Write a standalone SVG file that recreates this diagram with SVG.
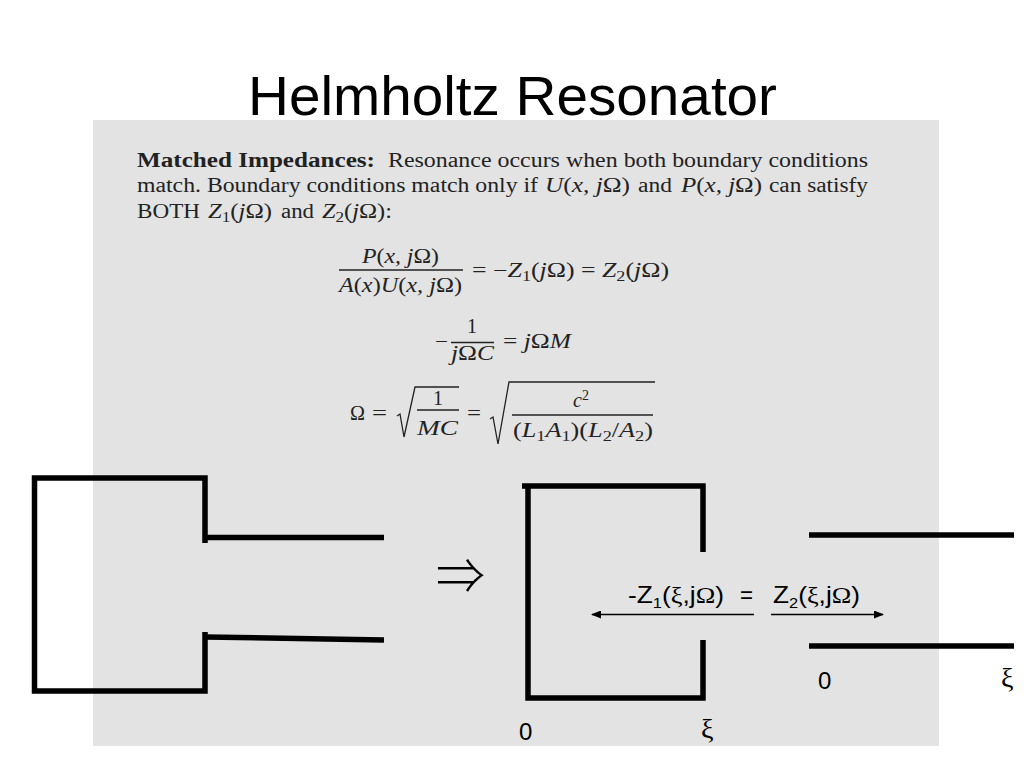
<svg xmlns="http://www.w3.org/2000/svg" width="1024" height="768" viewBox="0 0 1024 768">
<style>
.tex{font-family:"Liberation Serif","DejaVu Serif",serif;font-size:20px;fill:#222}
.b{font-weight:bold}
.i{font-style:italic}
.s{font-size:14px}
.sans{font-family:"Liberation Sans",Arial,sans-serif;font-size:24px;fill:#000}
.sym{font-family:"Liberation Serif",serif}
.xi{font-family:"Liberation Serif",serif;font-size:28px;fill:#000}
.thick{fill:none;stroke:#000;stroke-width:5.5}
.thin{fill:none;stroke:#222;stroke-width:1.3}
.conn{fill:none;stroke:#000;stroke-width:1.3}
.head{fill:#000}
</style>
<defs>
<marker id="arrow" viewBox="0 0 10 8" refX="9" refY="4" markerWidth="10" markerHeight="8" markerUnits="userSpaceOnUse" orient="auto-start-reverse"><path class="head" d="M0 0L10 4L0 8Z"/></marker>
</defs>
<rect width="1024" height="768" fill="#fff"/>
<rect x="93" y="120" width="846" height="626" fill="#e3e3e3"/>
<text x="248" y="115" textLength="529" lengthAdjust="spacingAndGlyphs" style="font-family:'Liberation Sans',Arial,sans-serif;font-size:56px">Helmholtz Resonator</text>

<g id="paragraph">
<text class="tex b" x="137" y="167" textLength="238" lengthAdjust="spacingAndGlyphs">Matched Impedances:</text>
<text class="tex" x="388" y="167" textLength="480" lengthAdjust="spacingAndGlyphs">Resonance occurs when both boundary conditions</text>
<text class="tex" x="137" y="192" textLength="401" lengthAdjust="spacingAndGlyphs">match. Boundary conditions match only if</text>
<text class="tex" x="545" y="192" textLength="85" lengthAdjust="spacingAndGlyphs"><tspan class="i">U</tspan>(<tspan class="i">x, j</tspan>Ω)</text>
<text class="tex" x="638" y="192" textLength="34" lengthAdjust="spacingAndGlyphs">and</text>
<text class="tex" x="681" y="192" textLength="81" lengthAdjust="spacingAndGlyphs"><tspan class="i">P</tspan>(<tspan class="i">x, j</tspan>Ω)</text>
<text class="tex" x="769" y="192" textLength="99" lengthAdjust="spacingAndGlyphs">can satisfy</text>
<text class="tex" x="137" y="218" textLength="63" lengthAdjust="spacingAndGlyphs">BOTH</text>
<text class="tex" x="208" y="218" textLength="64" lengthAdjust="spacingAndGlyphs"><tspan class="i">Z</tspan><tspan class="s" dy="4">1</tspan><tspan dy="-4">(</tspan><tspan class="i">j</tspan>Ω)</text>
<text class="tex" x="281" y="218" textLength="33" lengthAdjust="spacingAndGlyphs">and</text>
<text class="tex" x="322" y="218" textLength="70" lengthAdjust="spacingAndGlyphs"><tspan class="i">Z</tspan><tspan class="s" dy="4">2</tspan><tspan dy="-4">(</tspan><tspan class="i">j</tspan>Ω):</text>
</g>

<g id="equation-1">
<text class="tex" x="362" y="263" textLength="77" lengthAdjust="spacingAndGlyphs"><tspan class="i">P</tspan>(<tspan class="i">x, j</tspan>Ω)</text>
<line class="thin" x1="339" y1="270" x2="463" y2="270"/>
<text class="tex" x="339" y="292" textLength="123" lengthAdjust="spacingAndGlyphs"><tspan class="i">A</tspan>(<tspan class="i">x</tspan>)<tspan class="i">U</tspan>(<tspan class="i">x, j</tspan>Ω)</text>
<text class="tex" x="472" y="277" textLength="197" lengthAdjust="spacingAndGlyphs">= −<tspan class="i">Z</tspan><tspan class="s" dy="4">1</tspan><tspan dy="-4">(</tspan><tspan class="i">j</tspan>Ω) = <tspan class="i">Z</tspan><tspan class="s" dy="4">2</tspan><tspan dy="-4">(</tspan><tspan class="i">j</tspan>Ω)</text>
</g>

<g id="equation-2">
<text class="tex" x="435" y="348" textLength="13" lengthAdjust="spacingAndGlyphs">−</text>
<text class="tex" x="472" y="333" text-anchor="middle">1</text>
<line class="thin" x1="451" y1="342.500" x2="494" y2="342.500"/>
<text class="tex" x="451" y="360" textLength="43" lengthAdjust="spacingAndGlyphs"><tspan class="i">j</tspan>Ω<tspan class="i">C</tspan></text>
<text class="tex" x="503" y="348" textLength="68" lengthAdjust="spacingAndGlyphs">= <tspan class="i">j</tspan>Ω<tspan class="i">M</tspan></text>
</g>

<g id="equation-3">
<text class="tex" x="350" y="420" textLength="15" lengthAdjust="spacingAndGlyphs">Ω</text>
<text class="tex" x="372" y="420" textLength="15" lengthAdjust="spacingAndGlyphs">=</text>
<path class="thin" d="M397 416L400 414L404 437L415 387H459"/>
<text class="tex" x="438" y="405" text-anchor="middle">1</text>
<line class="thin" x1="417" y1="410" x2="459" y2="410"/>
<text class="tex i" x="417" y="435" textLength="41" lengthAdjust="spacingAndGlyphs">MC</text>
<text class="tex" x="467" y="420" textLength="14" lengthAdjust="spacingAndGlyphs">=</text>
<path class="thin" d="M490 419L493 417L498 444L509 382H655"/>
<text class="tex" x="573" y="407"><tspan class="i">c</tspan><tspan class="s" dy="-7">2</tspan></text>
<line class="thin" x1="512" y1="415" x2="653" y2="415"/>
<text class="tex" x="513" y="437" textLength="140" lengthAdjust="spacingAndGlyphs">(<tspan class="i">L</tspan><tspan class="s" dy="4">1</tspan><tspan class="i" dy="-4">A</tspan><tspan class="s" dy="4">1</tspan><tspan dy="-4">)(</tspan><tspan class="i">L</tspan><tspan class="s" dy="4">2</tspan><tspan dy="-4">/</tspan><tspan class="i">A</tspan><tspan class="s" dy="4">2</tspan><tspan dy="-4">)</tspan></text>
</g>

<g id="helmholtz-resonator">
<path class="thick" d="M205 543V478H34.500V691H205V632"/>
<line class="thick" x1="205" y1="537.500" x2="384" y2="537.500"/>
<line class="thick" x1="205" y1="637" x2="384" y2="640"/>
</g>

<text id="implies" x="436" y="594" textLength="49" lengthAdjust="spacingAndGlyphs" style="font-family:'Noto Sans CJK SC',sans-serif;font-size:50px;font-weight:300;fill:#000">⇒</text>

<g id="cavity">
<path class="thick" d="M522 486H703V552"/>
<path class="thick" d="M528 486V698H703V640"/>
<text class="sans" x="519" y="740">0</text>
<text class="xi" x="701" y="738">ξ</text>
</g>

<g id="neck">
<line class="thick" x1="809" y1="535" x2="1014" y2="535"/>
<line class="thick" x1="809" y1="646" x2="1014" y2="646"/>
<text class="sans" x="818" y="689">0</text>
<text class="xi" x="1001" y="687">ξ</text>
</g>

<g id="connectors">
<line class="conn" x1="754" y1="614.500" x2="592" y2="614.500" marker-end="url(#arrow)"/>
<line class="conn" x1="771" y1="614.500" x2="883" y2="614.500" marker-end="url(#arrow)"/>
</g>

<g id="impedance-labels">
<text class="sans" x="628" y="603" textLength="96" lengthAdjust="spacingAndGlyphs" font-size="23">-Z<tspan font-size="15" dy="5">1</tspan><tspan dy="-5">(</tspan><tspan class="sym">ξ</tspan>,j<tspan class="sym">Ω</tspan>)</text>
<text class="sans" x="740" y="603" textLength="13" lengthAdjust="spacingAndGlyphs">=</text>
<text class="sans" x="773" y="603" textLength="87" lengthAdjust="spacingAndGlyphs">Z<tspan font-size="15" dy="5">2</tspan><tspan dy="-5">(</tspan><tspan class="sym">ξ</tspan>,j<tspan class="sym">Ω</tspan>)</text>
</g>
</svg>
